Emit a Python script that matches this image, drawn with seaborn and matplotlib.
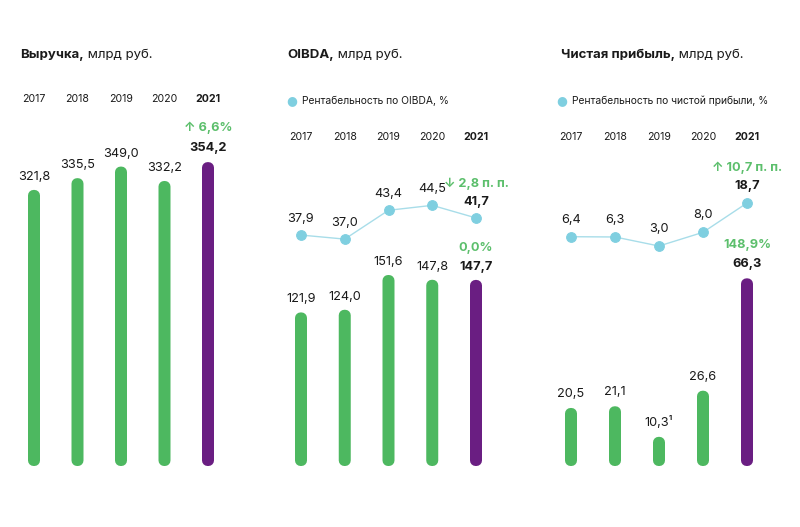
import matplotlib
matplotlib.use("Agg")
import matplotlib.pyplot as plt
import seaborn as sns
import pandas as pd

years = ["2017", "2018", "2019", "2020", "2021"]
revenue = [321.8, 335.5, 349.0, 332.2, 354.2]
oibda = [121.9, 124.0, 151.6, 147.8, 147.7]
oibda_margin = [37.9, 37.0, 43.4, 44.5, 41.7]
net_profit = [20.5, 21.1, 10.3, 26.6, 66.3]
net_margin = [6.4, 6.3, 3.0, 8.0, 18.7]

revenue_labels = ["321,8", "335,5", "349,0", "332,2", "354,2"]
oibda_labels = ["121,9", "124,0", "151,6", "147,8", "147,7"]
oibda_margin_labels = ["37,9", "37,0", "43,4", "44,5", "41,7"]
profit_labels = ["20,5", "21,1", "10,3¹", "26,6", "66,3"]
net_margin_labels = ["6,4", "6,3", "3,0", "8,0", "18,7"]

GREEN = "#4db860"
PURPLE = "#6a1e82"
LINE = "#a8dde9"
DOT = "#7fcfe0"
DARK = "#1a1a1a"
GREEN_TXT = "#5cbf6c"

sns.set_theme(style="white")
FONT = ["Inter", "DejaVu Sans"]
plt.rcParams["font.family"] = FONT

W, H = 800, 527
fig = plt.figure(figsize=(8, 5.27), dpi=100)
fig.patch.set_facecolor("white")

BASE, TOP = 466, 100
PX = 0.72   # points per pixel
CAP = 11    # stroke width (px) that rounds the bar ends
CORE = 1    # bar body width (px)


def make_ax(left, step):
    ax = fig.add_axes([(left - 0.6 * step) / W, (H - BASE) / H,
                       5.2 * step / W, (BASE - TOP) / H])
    ax.set_xlim(-0.6, 4.6)
    return ax


def draw_bars(ax, values, ymax, step):
    df = pd.DataFrame({"year": years, "value": values})
    sns.barplot(data=df, x="year", y="value", hue="year",
                palette=[GREEN] * 4 + [PURPLE], width=CORE / step,
                saturation=1, legend=False, ax=ax)
    ax.set_ylim(0, ymax)
    ax.set_xlim(-0.6, 4.6)
    r = (CAP / 2) * ymax / (BASE - TOP)  # cap radius in data units
    for p in ax.patches:
        fc = p.get_facecolor()
        p.set_edgecolor(fc)
        p.set_linewidth(CAP * PX)
        p.set_joinstyle("round")
        p.set_capstyle("round")
        p.set_snap(False)
        h = p.get_height()
        p.set_y(r)
        p.set_height(h - 2 * r)
    ax.axis("off")


def draw_line(ax, values, lo, hi):
    tw = ax.twinx()
    df = pd.DataFrame({"x": range(5), "value": values})
    sns.lineplot(data=df, x="x", y="value", color=LINE, linewidth=1.0,
                 marker="o", markersize=7, markerfacecolor=DOT,
                 markeredgecolor=DOT, ax=tw)
    tw.set_ylim(lo, hi)
    tw.set_xlim(-0.6, 4.6)
    tw.axis("off")
    return tw


def label(ax, x, y, text, dy, bold=False, color=DARK, size=9.2):
    ax.annotate(text, (x, y), xytext=(0, dy * PX), textcoords="offset points",
                ha="center", va="center", fontsize=size, color=color,
                fontweight="bold" if bold else "normal", family=FONT)


def title(x, bold, rest):
    t = fig.text(x / W, 1 - 55 / H, bold, fontsize=9.5, fontweight="bold",
                 va="center", ha="left", color=DARK)
    fig.axes[0].annotate(rest, xy=(1, 0.5), xycoords=t, va="center",
                         ha="left", fontsize=9.5, color=DARK,
                         annotation_clip=False)


def year_row(ax, y):
    trans = ax.get_xaxis_transform()
    yy = (BASE - y) / (BASE - TOP)
    for i, yr in enumerate(years):
        ax.text(i, yy, yr, transform=trans, ha="center", va="center",
                fontsize=7.6, color=DARK, clip_on=False,
                fontweight="bold" if i == 4 else "normal")


def legend(x, text):
    fig.text(x / W, 1 - 101 / H, "●", fontsize=9, color=DOT, ha="center",
             va="center", family=["DejaVu Sans"])
    fig.text((x + 10) / W, 1 - 101 / H, text, fontsize=7.4, color=DARK,
             ha="left", va="center")


# Panel 1: revenue
ax1 = make_ax(34, 43.5)
draw_bars(ax1, revenue, 426.6, 43.5)
for i, v in enumerate(revenue):
    label(ax1, i, v, revenue_labels[i], 14 if i == 4 else 13, bold=(i == 4))
label(ax1, 4, revenue[4], "↑ 6,6%", 34, bold=True, color=GREEN_TXT)
year_row(ax1, 99)

# Panel 2: OIBDA
ax2 = make_ax(301, 43.75)
draw_bars(ax2, oibda, 290.5, 43.75)
for i, v in enumerate(oibda):
    label(ax2, i, v, oibda_labels[i], 13, bold=(i == 4))
label(ax2, 4, oibda[4], "0,0%", 32, bold=True, color=GREEN_TXT)
tw2 = draw_line(ax2, oibda_margin, -13.4, 67.9)
for i, v in enumerate(oibda_margin):
    label(tw2, i, v, oibda_margin_labels[i], 16, bold=(i == 4))
label(tw2, 4, oibda_margin[4], "↓ 2,8 п. п.", 34, bold=True, color=GREEN_TXT)
year_row(ax2, 137)

# Panel 3: net profit
ax3 = make_ax(571, 44)
draw_bars(ax3, net_profit, 129.3, 44)
for i, v in enumerate(net_profit):
    label(ax3, i, v, profit_labels[i], 14, bold=(i == 4))
label(ax3, 4, net_profit[4], "148,9%", 33, bold=True, color=GREEN_TXT)
tw3 = draw_line(ax3, net_margin, -77.3, 56.3)
for i, v in enumerate(net_margin):
    label(tw3, i, v, net_margin_labels[i], 17, bold=(i == 4))
label(tw3, 4, net_margin[4], "↑ 10,7 п. п.", 35, bold=True, color=GREEN_TXT)
year_row(ax3, 137)

title(20, "Выручка,", " млрд руб.")
title(287, "OIBDA,", " млрд руб.")
title(561, "Чистая прибыль,", " млрд руб.")
legend(292, "Рентабельность по OIBDA, %")
legend(562, "Рентабельность по чистой прибыли, %")

fig.savefig("out.png", dpi=100, facecolor="white")
